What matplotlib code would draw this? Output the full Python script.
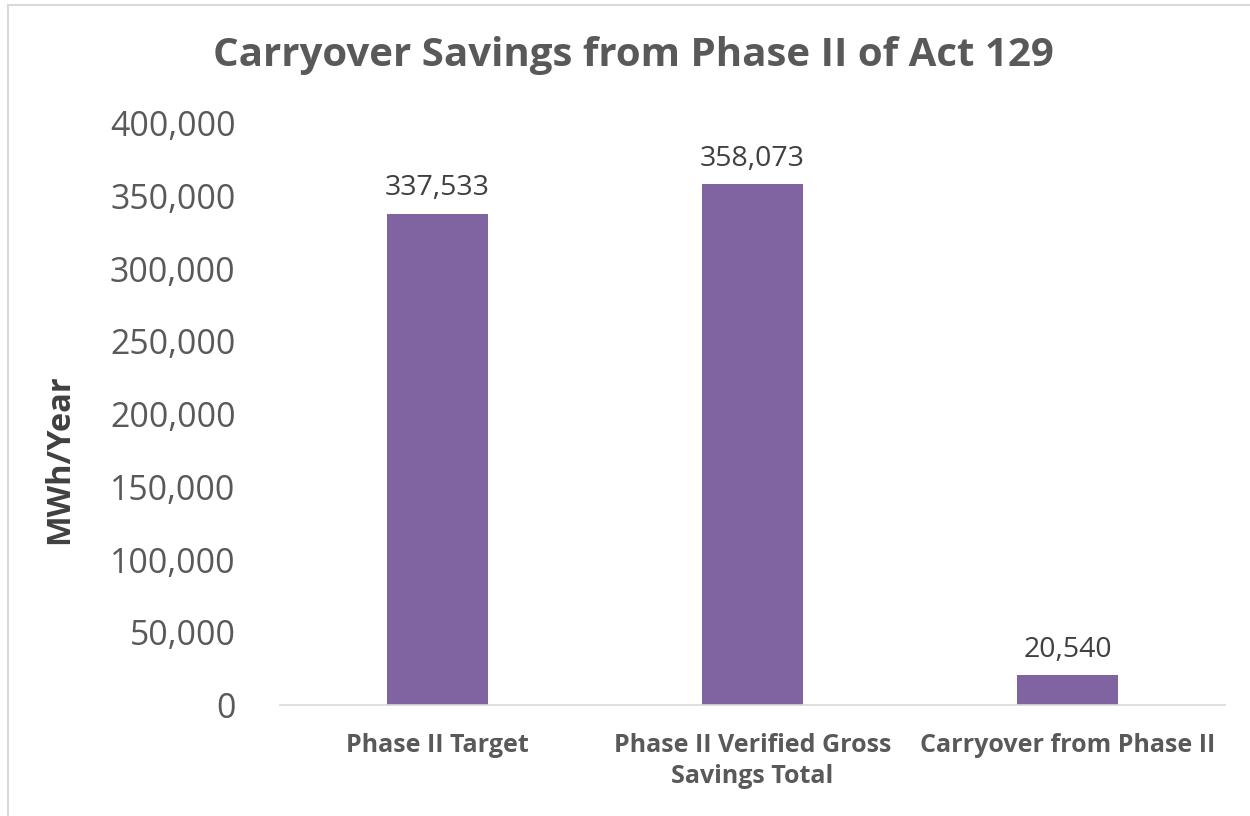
import matplotlib.pyplot as plt
from matplotlib.patches import Rectangle
from matplotlib.ticker import FuncFormatter

categories = ["Phase II Target", "Phase II Verified Gross\nSavings Total", "Carryover from Phase II"]
savings = [337533, 358073, 20540]
y_ticks = [0, 50000, 100000, 150000, 200000, 250000, 300000, 350000, 400000]

plt.rcParams["font.family"] = ["Open Sans", "DejaVu Sans"]
GREY = "#595959"
PURPLE = "#8064A2"

fig = plt.figure(figsize=(12.5, 8.16), dpi=100)
ax = fig.add_axes([0.224, 0.136, 0.756, 0.713])

x = range(len(categories))
ax.bar(x, savings, width=0.32, color=PURPLE, zorder=2)
for xi, v in zip(x, savings):
    ax.text(xi, v + 8000, f"{v:,}", ha="center", va="bottom", fontsize=20.5, color="#404040")

ax.set_ylim(0, 400000)
ax.set_xlim(-0.5, 2.5)
ax.set_yticks(y_ticks)
ax.yaxis.set_major_formatter(FuncFormatter(lambda v, p: f"{int(v):,}"))
ax.tick_params(axis="y", labelsize=24.4, labelcolor=GREY, length=0, pad=32)
ax.set_xticks(list(x))
ax.set_xticklabels(categories, fontsize=18, fontweight="bold", color=GREY, linespacing=1.3)
ax.tick_params(axis="x", length=0, pad=20)

for s in ["top", "right", "left"]:
    ax.spines[s].set_visible(False)
ax.spines["bottom"].set_color("#D9D9D9")
ax.spines["bottom"].set_linewidth(1.2)

fig.text(60 / 1250, 1 - 459 / 816, "MWh/Year", rotation=90, ha="center", va="center",
         fontsize=23.5, fontweight="bold", color="#404040")

fig.text(0.507, 0.932, "Carryover Savings from Phase II of Act 129", ha="center", va="center",
         fontsize=29, fontweight="bold", color=GREY)

# chart border
fig.patches.append(Rectangle((0.006, -0.01), 1.2, 1.004, transform=fig.transFigure,
                             fill=False, edgecolor="#D9D9D9", linewidth=1.5))

fig.savefig("out.png", dpi=100)
